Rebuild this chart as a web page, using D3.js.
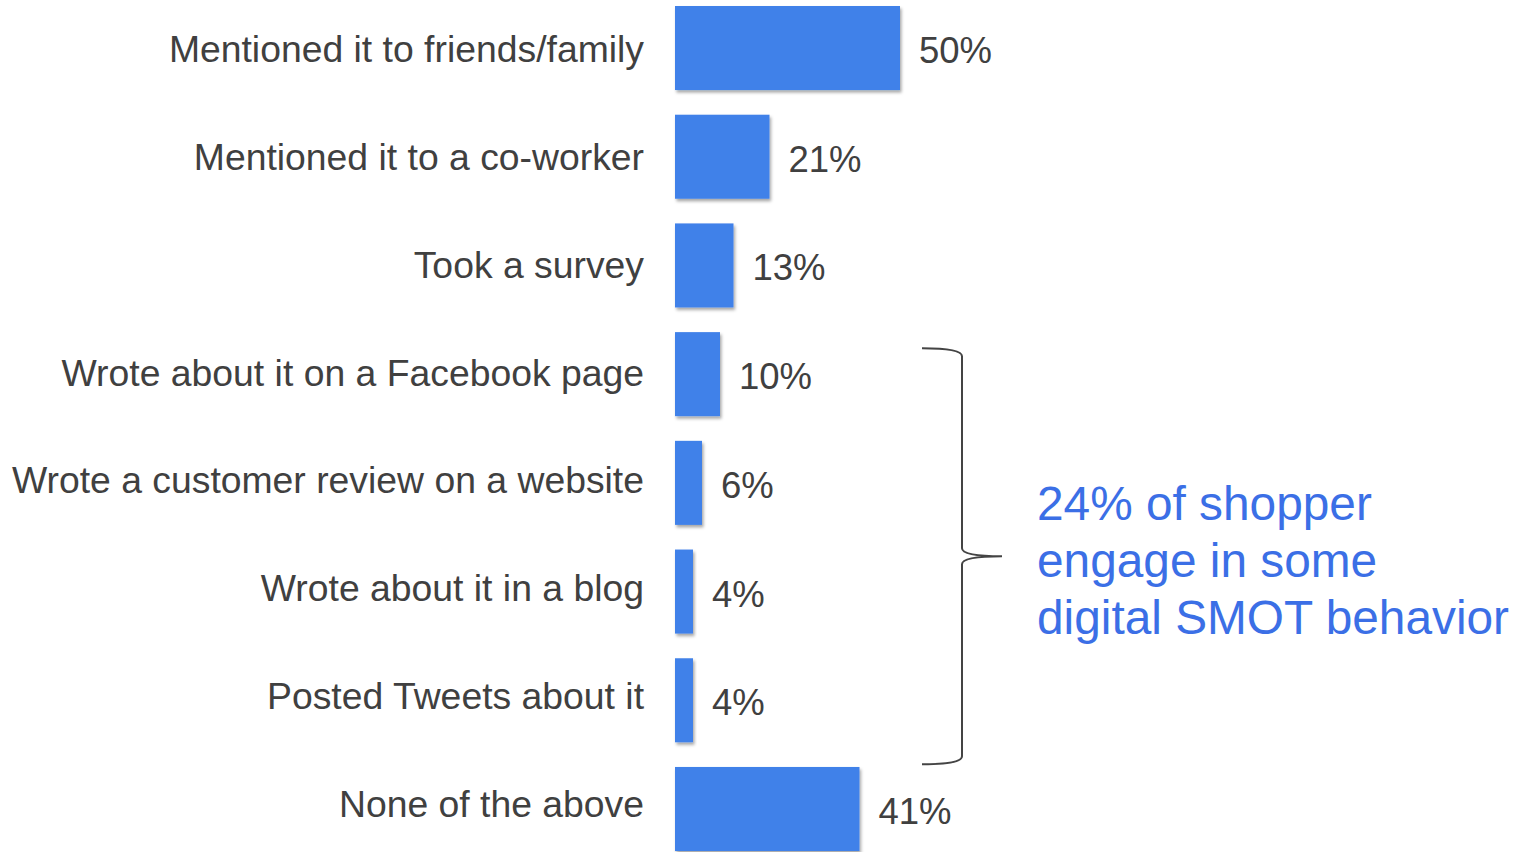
<!DOCTYPE html>
<html>
<head>
<meta charset="utf-8">
<script src="https://cdn.jsdelivr.net/npm/d3@7"></script>
<style>
  html, body { margin: 0; padding: 0; background: #fff; }
  svg { display: block; }
</style>
</head>
<body>
<svg id="chart" width="1531" height="852"></svg>
<script>
// Survey responses: share of shoppers taking each action
const categories = [
  "Mentioned it to friends/family",
  "Mentioned it to a co-worker",
  "Took a survey",
  "Wrote about it on a Facebook page",
  "Wrote a customer review on a website",
  "Wrote about it in a blog",
  "Posted Tweets about it",
  "None of the above"
];
const values = [50, 21, 13, 10, 6, 4, 4, 41];
const valueLabels = ["50%", "21%", "13%", "10%", "6%", "4%", "4%", "41%"];
const noteLines = ["24% of shopper", "engage in some", "digital SMOT behavior"];
// categories grouped by the brace (digital actions)
const bracedFirst = "Wrote about it on a Facebook page";
const bracedLast = "Posted Tweets about it";

const svg = d3.select("#chart");
const font = "'Liberation Sans', Arial, Helvetica, sans-serif";
const textColor = "#404040";
const barColor = "#4181e9";
const noteColor = "#3b6fe6";

const defs = svg.append("defs");
const shadow = defs.append("filter").attr("id", "barShadow")
  .attr("x", "-10%").attr("y", "-10%").attr("width", "130%").attr("height", "130%");
shadow.append("feDropShadow")
  .attr("dx", 1.5).attr("dy", 2.5).attr("stdDeviation", 1.6)
  .attr("flood-color", "#000").attr("flood-opacity", 0.35);

const x = d3.scaleLinear().domain([0, 50]).range([675, 900]);
const y = d3.scaleBand().domain(categories).range([6, 851])
  .paddingInner(0.227).paddingOuter(0);
// category text rows sit on a slightly tighter pitch than the bars
const yLabel = d3.scalePoint().domain(categories).range([62, 817]);

const data = categories.map((c, i) => ({ cat: c, value: values[i], label: valueLabels[i] }));

// bars
svg.append("g").selectAll("rect").data(data).join("rect")
  .attr("x", x(0))
  .attr("y", d => y(d.cat))
  .attr("width", d => x(d.value) - x(0))
  .attr("height", y.bandwidth())
  .attr("fill", barColor)
  .attr("filter", "url(#barShadow)");

// category labels
svg.append("g").selectAll("text").data(data).join("text")
  .attr("x", 644)
  .attr("y", d => yLabel(d.cat))
  .attr("text-anchor", "end")
  .attr("font-family", font)
  .attr("font-size", 37.35)
  .attr("fill", textColor)
  .text(d => d.cat);

// value labels
svg.append("g").selectAll("text").data(data).join("text")
  .attr("x", d => x(d.value) + 19)
  .attr("y", d => y(d.cat) + y.bandwidth() / 2 + 15)
  .attr("font-family", font)
  .attr("font-size", 36.5)
  .attr("fill", textColor)
  .text(d => d.label);

// curly brace spanning the digital actions
const braceTop = y(bracedFirst) + 16;
const braceBot = y(bracedLast) + y.bandwidth() + 22;
const braceMid = (braceTop + braceBot) / 2;
const bx0 = 922, bx = 962, tip = 1002, r = 8;
const brace = d3.path();
brace.moveTo(bx0, braceTop);
brace.quadraticCurveTo(bx, braceTop, bx, braceTop + r);
brace.lineTo(bx, braceMid - r);
brace.quadraticCurveTo(bx, braceMid, tip, braceMid);
brace.moveTo(tip, braceMid);
brace.quadraticCurveTo(bx, braceMid, bx, braceMid + r);
brace.lineTo(bx, braceBot - r);
brace.quadraticCurveTo(bx, braceBot, bx0, braceBot);
svg.append("path")
  .attr("d", brace.toString())
  .attr("fill", "none")
  .attr("stroke", "#444")
  .attr("stroke-width", 2);

// annotation
svg.append("text")
  .attr("font-family", font)
  .attr("font-size", 47.8)
  .attr("fill", noteColor)
  .selectAll("tspan").data(noteLines).join("tspan")
  .attr("x", 1037)
  .attr("y", (d, i) => 520 + i * 57)
  .text(d => d);
</script>
</body>
</html>
